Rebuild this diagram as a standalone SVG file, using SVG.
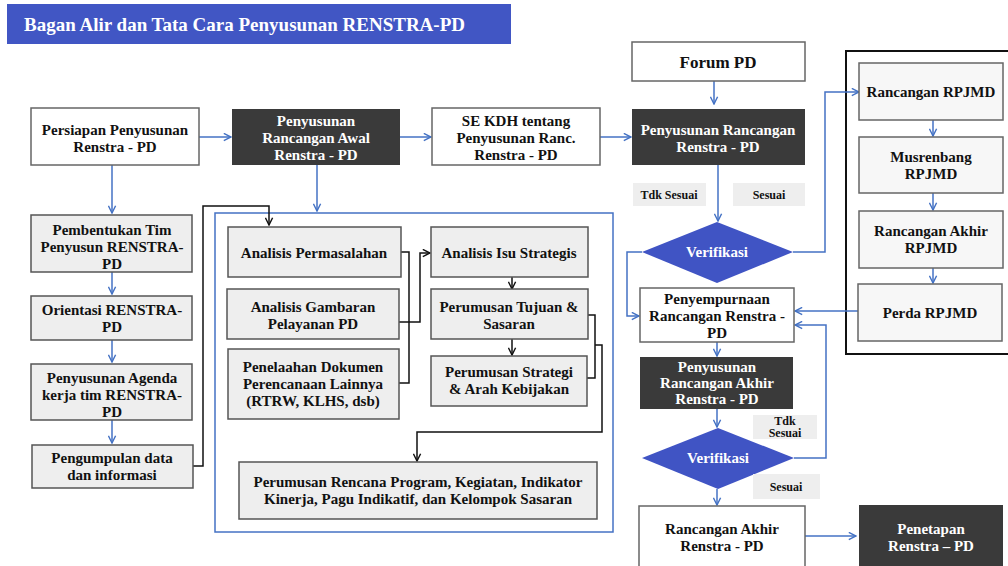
<svg xmlns="http://www.w3.org/2000/svg" width="1008" height="566" viewBox="0 0 1008 566">
<style>
.t{font-family:"Liberation Serif","DejaVu Serif",serif;font-weight:bold;font-size:15px;text-anchor:middle;fill:#111}
.w{fill:#fff}
.s{font-size:12px}
.bx{fill:#fff;stroke:#666;stroke-width:1.5}
.gb{fill:#eeeeee;stroke:#555;stroke-width:1.5}
.dk{fill:#3a3a3a}
.lb{fill:#eeeeee}
.dm{fill:#4054C4}
.bl{fill:none;stroke:#4472C4;stroke-width:1.5}
.bk{fill:none;stroke:#111;stroke-width:1.5}
</style>
<defs>
<marker id="ab" viewBox="0 0 10 10" refX="9" refY="5" markerWidth="9" markerHeight="9" markerUnits="userSpaceOnUse" orient="auto"><path d="M1,1 L9,5 L1,9" fill="none" stroke="#4472C4" stroke-width="1.6"/></marker>
<marker id="ak" viewBox="0 0 10 10" refX="9" refY="5" markerWidth="9" markerHeight="9" markerUnits="userSpaceOnUse" orient="auto"><path d="M1,1 L9,5 L1,9" fill="none" stroke="#111" stroke-width="1.6"/></marker>
</defs>
<rect width="1008" height="566" fill="#fff"/>
<g id="title">
<rect x="7" y="4" width="504" height="40" fill="#4156C4"/>
<text x="24" y="31" style="font-family:'Liberation Serif','DejaVu Serif',serif;font-weight:bold;font-size:19px;fill:#fff">Bagan Alir dan Tata Cara Penyusunan RENSTRA-PD</text>
</g>
<g id="container">
<rect x="215" y="213" width="398" height="319" fill="none" stroke="#4472C4" stroke-width="1.5"/>
</g>
<g id="rpjmd-frame">
<rect x="846" y="51" width="170" height="303" fill="none" stroke="#111" stroke-width="2"/>
</g>
<g id="connectors">
<path class="bl" d="M199,137 H231" marker-end="url(#ab)"/>
<path class="bl" d="M400,137 H431" marker-end="url(#ab)"/>
<path class="bl" d="M600,137 H631" marker-end="url(#ab)"/>
<path class="bl" d="M714,81 V104" marker-end="url(#ab)"/>
<path class="bl" d="M112,165 V213" marker-end="url(#ab)"/>
<path class="bl" d="M112,272 V294" marker-end="url(#ab)"/>
<path class="bl" d="M112,340 V362" marker-end="url(#ab)"/>
<path class="bl" d="M112,420 V443" marker-end="url(#ab)"/>
<path class="bl" d="M317,165 V211" marker-end="url(#ab)"/>
<path class="bk" d="M193,466 H203 V206 H269 V225" marker-end="url(#ak)"/>
<path class="bk" d="M401,252 H409 V383 H399 M399,322 H420 V253 H430" marker-end="url(#ak)"/>
<path class="bk" d="M512,277 V289" marker-end="url(#ak)"/>
<path class="bk" d="M512,339 V355" marker-end="url(#ak)"/>
<path class="bk" d="M588,315 H595 V378 H587 M595,345 H602 V432 H417 V461" marker-end="url(#ak)"/>
<path class="bl" d="M718,165 V221" marker-end="url(#ab)"/>
<path class="bl" d="M793,252 H825 V92 H859" marker-end="url(#ab)"/>
<path class="bl" d="M642,252 H627 V316 H639" marker-end="url(#ab)"/>
<path class="bl" d="M933,120 V136" marker-end="url(#ab)"/>
<path class="bl" d="M933,193 V210" marker-end="url(#ab)"/>
<path class="bl" d="M933,268 V283" marker-end="url(#ab)"/>
<path class="bl" d="M858,311 H795" marker-end="url(#ab)"/>
<path class="bl" d="M717,342 V356" marker-end="url(#ab)"/>
<path class="bl" d="M717,409 V427" marker-end="url(#ab)"/>
<path class="bl" d="M794,458 H826 V325 H795" marker-end="url(#ab)"/>
<path class="bl" d="M717,489 V505" marker-end="url(#ab)"/>
<path class="bl" d="M805,536 H856" marker-end="url(#ab)"/>
</g>
<g id="persiapan"><rect class="bx" x="31" y="108" width="168" height="57"/><text class="t" x="115" y="135">Persiapan Penyusunan<tspan x="115" dy="17">Renstra - PD</tspan></text></g>
<g id="rancangan-awal"><rect class="dk" x="232" y="109" width="168" height="56"/><text class="t w" x="316" y="126">Penyusunan<tspan x="316" dy="17">Rancangan Awal</tspan><tspan x="316" dy="17">Renstra - PD</tspan></text></g>
<g id="se-kdh"><rect class="bx" x="432" y="108" width="168" height="57"/><text class="t" x="516" y="126">SE KDH tentang<tspan x="516" dy="17">Penyusunan Ranc.</tspan><tspan x="516" dy="17">Renstra - PD</tspan></text></g>
<g id="forum-pd"><rect class="bx" x="632" y="42" width="173" height="39"/><text class="t" x="718" y="68" style="font-size:17px">Forum PD</text></g>
<g id="rancangan-renstra"><rect class="dk" x="632" y="109" width="173" height="56"/><text class="t w" x="718" y="135">Penyusunan Rancangan<tspan x="718" dy="17">Renstra - PD</tspan></text></g>
<g id="lbl-tdk1"><rect class="lb" x="633" y="183" width="73" height="23"/><text class="t s" x="669" y="199">Tdk Sesuai</text></g>
<g id="lbl-ses1"><rect class="lb" x="733" y="183" width="72" height="23"/><text class="t s" x="769" y="199">Sesuai</text></g>
<g id="verifikasi1"><polygon class="dm" points="717,222 793,252 717,283 642,252"/><text class="t w" x="717" y="257">Verifikasi</text></g>
<g id="penyempurnaan"><rect class="bx" x="640" y="288" width="154" height="54"/><text class="t" x="717" y="304">Penyempurnaan<tspan x="717" dy="17">Rancangan Renstra -</tspan><tspan x="717" dy="17">PD</tspan></text></g>
<g id="rancangan-akhir-dk"><rect class="dk" x="640" y="357" width="153" height="52"/><text class="t w" x="717" y="372">Penyusunan<tspan x="717" dy="16">Rancangan Akhir</tspan><tspan x="717" dy="16">Renstra - PD</tspan></text></g>
<g id="lbl-tdk2"><rect class="lb" x="753" y="415" width="64" height="24"/><text class="t s" x="785" y="425">Tdk<tspan x="785" dy="12">Sesuai</tspan></text></g>
<g id="verifikasi2"><polygon class="dm" points="718,428 794,458 718,489 642,458"/><text class="t w" x="718" y="463">Verifikasi</text></g>
<g id="lbl-ses2"><rect class="lb" x="753" y="474" width="67" height="25"/><text class="t s" x="786" y="491">Sesuai</text></g>
<g id="rancangan-akhir"><rect class="bx" x="639" y="506" width="166" height="70"/><text class="t" x="722" y="534">Rancangan Akhir<tspan x="722" dy="17">Renstra - PD</tspan></text></g>
<g id="penetapan"><rect class="dk" x="859" y="505" width="144" height="70"/><text class="t w" x="931" y="534">Penetapan<tspan x="931" dy="17">Renstra – PD</tspan></text></g>
<g id="rancangan-rpjmd"><rect class="bx" x="859" y="63" width="144" height="57" style="fill:#f7f7f7"/><text class="t" x="931" y="97">Rancangan RPJMD</text></g>
<g id="musrenbang"><rect class="bx" x="859" y="137" width="144" height="56" style="fill:#f7f7f7"/><text class="t" x="931" y="162">Musrenbang<tspan x="931" dy="17">RPJMD</tspan></text></g>
<g id="rancangan-akhir-rpjmd"><rect class="bx" x="859" y="211" width="144" height="57" style="fill:#f7f7f7"/><text class="t" x="931" y="236">Rancangan Akhir<tspan x="931" dy="17">RPJMD</tspan></text></g>
<g id="perda"><rect class="bx" x="858" y="284" width="144" height="57" style="fill:#f7f7f7"/><text class="t" x="930" y="318">Perda RPJMD</text></g>
<g id="pembentukan"><rect class="gb" x="31" y="215" width="161" height="57"/><text class="t" x="112" y="235">Pembentukan Tim<tspan x="112" dy="17">Penyusun RENSTRA-</tspan><tspan x="112" dy="17">PD</tspan></text></g>
<g id="orientasi"><rect class="gb" x="31" y="296" width="161" height="44"/><text class="t" x="112" y="315">Orientasi RENSTRA-<tspan x="112" dy="17">PD</tspan></text></g>
<g id="agenda"><rect class="gb" x="31" y="364" width="161" height="56"/><text class="t" x="112" y="383">Penyusunan Agenda<tspan x="112" dy="17">kerja tim RENSTRA-</tspan><tspan x="112" dy="17">PD</tspan></text></g>
<g id="pengumpulan"><rect class="gb" x="32" y="445" width="161" height="43"/><text class="t" x="112" y="463">Pengumpulan data<tspan x="112" dy="17">dan informasi</tspan></text></g>
<g id="analisis-permasalahan"><rect class="gb" x="228" y="227" width="173" height="50"/><text class="t" x="314" y="258">Analisis Permasalahan</text></g>
<g id="analisis-gambaran"><rect class="gb" x="227" y="289" width="172" height="50"/><text class="t" x="313" y="312">Analisis Gambaran<tspan x="313" dy="17">Pelayanan PD</tspan></text></g>
<g id="penelaahan"><rect class="gb" x="228" y="349" width="171" height="70"/><text class="t" x="313" y="372">Penelaahan Dokumen<tspan x="313" dy="17">Perencanaan Lainnya</tspan><tspan x="313" dy="17">(RTRW, KLHS, dsb)</tspan></text></g>
<g id="isu-strategis"><rect class="gb" x="431" y="227" width="157" height="50"/><text class="t" x="509" y="258">Analisis Isu Strategis</text></g>
<g id="tujuan-sasaran"><rect class="gb" x="431" y="289" width="157" height="50"/><text class="t" x="509" y="312">Perumusan Tujuan &amp;<tspan x="509" dy="17">Sasaran</tspan></text></g>
<g id="strategi"><rect class="gb" x="431" y="356" width="156" height="50"/><text class="t" x="509" y="377">Perumusan Strategi<tspan x="509" dy="17">&amp; Arah Kebijakan</tspan></text></g>
<g id="rencana-program"><rect class="gb" x="239" y="462" width="358" height="57"/><text class="t" x="418" y="487">Perumusan Rencana Program, Kegiatan, Indikator<tspan x="418" dy="17">Kinerja, Pagu Indikatif, dan Kelompok Sasaran</tspan></text></g>
</svg>
